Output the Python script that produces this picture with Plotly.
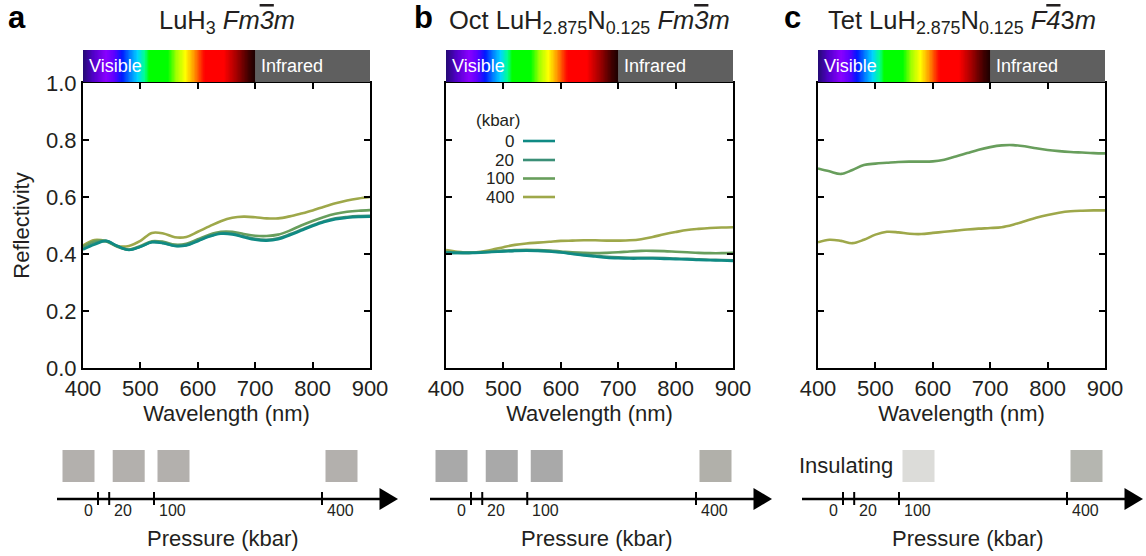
import plotly.graph_objects as go

W, H = 1146, 556
FONT = "Arial, 'Liberation Sans', sans-serif"
TXT = "#231f20"

# ---------------- data ----------------
WAVELENGTH = list(range(400, 901, 20))  # nm

# panel a: LuH3
A_0 = [0.416, 0.433, 0.446, 0.428, 0.414, 0.425, 0.441, 0.438, 0.428, 0.430, 0.445, 0.461, 0.471,
       0.469, 0.459, 0.450, 0.447, 0.452, 0.466, 0.482, 0.498, 0.512, 0.522, 0.527, 0.530, 0.531]
A_20 = [0.418, 0.437, 0.446, 0.427, 0.415, 0.426, 0.442, 0.439, 0.429, 0.432, 0.447, 0.463, 0.473,
        0.471, 0.462, 0.453, 0.450, 0.455, 0.469, 0.485, 0.501, 0.515, 0.525, 0.530, 0.533, 0.534]
A_100 = [0.425, 0.445, 0.445, 0.425, 0.416, 0.428, 0.445, 0.443, 0.433, 0.436, 0.452, 0.468, 0.478,
         0.478, 0.470, 0.464, 0.463, 0.468, 0.482, 0.500, 0.516, 0.530, 0.541, 0.548, 0.552, 0.554]
A_400 = [0.430, 0.449, 0.445, 0.428, 0.428, 0.446, 0.474, 0.472, 0.459, 0.460, 0.478, 0.497, 0.515,
         0.527, 0.531, 0.529, 0.525, 0.525, 0.532, 0.542, 0.553, 0.566, 0.578, 0.588, 0.595, 0.600]

# panel b: octahedral LuH2.875N0.125
B_0 = [0.405, 0.404, 0.404, 0.405, 0.407, 0.409, 0.411, 0.412, 0.411, 0.409, 0.405, 0.400, 0.395,
       0.391, 0.387, 0.385, 0.384, 0.384, 0.384, 0.383, 0.382, 0.381, 0.379, 0.378, 0.377, 0.376]
B_20 = [0.404, 0.404, 0.404, 0.406, 0.408, 0.410, 0.412, 0.413, 0.412, 0.410, 0.407, 0.402, 0.398,
        0.394, 0.390, 0.388, 0.387, 0.387, 0.387, 0.386, 0.384, 0.383, 0.381, 0.380, 0.379, 0.378]
B_100 = [0.408, 0.405, 0.404, 0.406, 0.409, 0.412, 0.414, 0.415, 0.414, 0.412, 0.409, 0.406, 0.404,
         0.403, 0.404, 0.406, 0.409, 0.411, 0.411, 0.410, 0.408, 0.406, 0.404, 0.403, 0.403, 0.404]
B_400 = [0.414, 0.408, 0.405, 0.408, 0.415, 0.424, 0.432, 0.437, 0.440, 0.443, 0.446, 0.447, 0.448,
         0.448, 0.447, 0.447, 0.448, 0.452, 0.460, 0.469, 0.477, 0.484, 0.488, 0.491, 0.493, 0.494]

# panel c: tetrahedral LuH2.875N0.125
C_100 = [0.700, 0.690, 0.681, 0.695, 0.712, 0.717, 0.720, 0.723, 0.724, 0.724, 0.725, 0.731, 0.742,
         0.754, 0.766, 0.775, 0.781, 0.782, 0.778, 0.771, 0.765, 0.761, 0.758, 0.756, 0.754, 0.753]
C_400 = [0.441, 0.450, 0.446, 0.438, 0.450, 0.468, 0.478, 0.476, 0.471, 0.470, 0.474, 0.478, 0.482,
         0.486, 0.489, 0.491, 0.494, 0.503, 0.515, 0.527, 0.537, 0.545, 0.550, 0.552, 0.553, 0.553]

SERIES_NAMES = ["0", "20", "100", "400"]
PRESSURES = [0, 20, 100, 400]
PRESSURE_TICK_LABELS = ["0", "20", "100", "400"]

PANEL_LETTERS = ["a", "b", "c"]
PANEL_TITLES = [
    "LuH<sub>3</sub> <i>Fm</i><span style='text-decoration:overline'><i>3</i></span><i>m</i>",
    "Oct LuH<sub>2.875</sub>N<sub>0.125</sub> <i>Fm</i><span style='text-decoration:overline'><i>3</i></span><i>m</i>",
    "Tet LuH<sub>2.875</sub>N<sub>0.125</sub> <i>F</i><span style='text-decoration:overline'><i>4</i></span>3<i>m</i>",
]

# spectrum bar colour stops (nm, colour)
SPECTRUM_NM = [400, 418, 440, 455, 468, 482, 495, 507, 515, 548, 562, 578, 592, 606, 612, 645, 668, 688, 700]
SPECTRUM_COLORS = ["#240a73", "#5000c8", "#8a00ff", "#5a00ff", "#0018ff", "#0080ff", "#00d4ff",
                   "#00ff90", "#00ff00", "#00ff00", "#a0ff00", "#ffff00", "#ffa000", "#ff2800",
                   "#ff0000", "#ff0000", "#a00000", "#400000", "#1a0000"]

# ---------------- styling ----------------
LINE_COLORS = {"0": "#0f8a84", "20": "#3b8f77", "100": "#689e5c", "400": "#9ea84a"}

PANEL_SERIES = [
    {"0": A_0, "20": A_20, "100": A_100, "400": A_400},
    {"0": B_0, "20": B_20, "100": B_100, "400": B_400},
    {"100": C_100, "400": C_400},
]

# pixel geometry
PLOT_X = [(83, 370), (446, 733), (818, 1105)]
PLOT_Y = (83, 368)
BAR_Y = (50, 82)
PRESS_AXIS = [  # start px, arrow tip px, px of 0 kbar, px per kbar
    (57, 398, 98, 0.56),
    (430, 772, 471, 0.5625),
    (802, 1143, 843, 0.56),
]
PRESS_Y = (445, 520)
SQUARE_COLORS = [
    {0: "#b3b0ad", 20: "#b3b0ad", 100: "#b3b0ad", 400: "#b3b0ad"},
    {0: "#a9a9a9", 20: "#a9a9a9", 100: "#a9a9a9", 400: "#b1b0aa"},
    {100: "#dcdcd9", 400: "#b5b6b0"},
]


def px_x(x):
    return x / W


def px_y(y):
    return 1 - y / H


def py_press(y):
    # pixel y -> pressure-diagram y units (0 at bottom of its domain, 1 at top)
    return (PRESS_Y[1] - y) / (PRESS_Y[1] - PRESS_Y[0])


fig = go.Figure()
annotations = []
shapes = []
layout = {}

# colourscale for the visible part
lo, hi = SPECTRUM_NM[0], SPECTRUM_NM[-1]
colorscale = [[(nm - lo) / (hi - lo), c] for nm, c in zip(SPECTRUM_NM, SPECTRUM_COLORS)]
bar_nm = list(range(lo, hi + 1))

axis_common = dict(
    showline=True, linewidth=2, linecolor="black", mirror="ticks",
    ticks="inside", ticklen=6, tickwidth=1.5, tickcolor="black",
    showgrid=False, zeroline=False, automargin=False,
    tickfont=dict(size=22, color=TXT, family=FONT),
)

for i in range(3):
    xa, ya = f"x{i + 1}", f"y{i + 1}"
    xb, yb = f"x{i + 4}", f"y{i + 4}"
    xp, yp = f"x{i + 7}", f"y{i + 7}"

    # ---- reflectivity curves (0 kbar drawn last / on top)
    for name in reversed(SERIES_NAMES):
        if name in PANEL_SERIES[i]:
            fig.add_trace(go.Scatter(
                x=WAVELENGTH, y=PANEL_SERIES[i][name], mode="lines",
                line=dict(color=LINE_COLORS[name], width=2.6, shape="spline", smoothing=1.0),
                xaxis=xa, yaxis=ya, name=name + " kbar", hoverinfo="x+y+name",
            ))

    layout[f"xaxis{i + 1}"] = dict(
        axis_common, domain=[px_x(PLOT_X[i][0]), px_x(PLOT_X[i][1])], range=[400, 900],
        tickvals=[400, 500, 600, 700, 800, 900], anchor=ya,
        title=dict(text="Wavelength (nm)", font=dict(size=22, color=TXT), standoff=4),
    )
    ydict = dict(
        axis_common, domain=[px_y(PLOT_Y[1]), px_y(PLOT_Y[0])], range=[0, 1],
        tickvals=[0, 0.2, 0.4, 0.6, 0.8, 1.0], tickformat=".1f", anchor=xa,
        showticklabels=(i == 0),
    )
    if i == 0:
        ydict["title"] = dict(text="Reflectivity", font=dict(size=22, color=TXT), standoff=10)
    layout[f"yaxis{i + 1}"] = ydict

    # ---- spectrum bar
    fig.add_trace(go.Heatmap(
        x=bar_nm, y=[0.5], z=[bar_nm], zmin=lo, zmax=hi, colorscale=colorscale,
        showscale=False, hoverinfo="skip", xaxis=xb, yaxis=yb,
    ))
    layout[f"xaxis{i + 4}"] = dict(domain=[px_x(PLOT_X[i][0]), px_x(PLOT_X[i][1])], range=[400, 900],
                                    visible=False, anchor=yb)
    layout[f"yaxis{i + 4}"] = dict(domain=[px_y(BAR_Y[1]), px_y(BAR_Y[0])], range=[0, 1],
                                    visible=False, anchor=xb)
    shapes.append(dict(type="rect", xref=xb, yref=yb, x0=700, x1=900, y0=0, y1=1,
                       fillcolor="#5f5f5f", line=dict(width=0), layer="above"))
    annotations.append(dict(text="Visible", xref=xb, yref=yb, x=400, y=0.5, xanchor="left",
                            yanchor="middle", xshift=4, showarrow=False,
                            font=dict(size=18, color="white")))
    annotations.append(dict(text="Infrared", xref=xb, yref=yb, x=700, y=0.5, xanchor="left",
                            yanchor="middle", xshift=4, showarrow=False,
                            font=dict(size=18, color="white")))

    # ---- titles
    cx = (PLOT_X[i][0] + PLOT_X[i][1]) / 2
    annotations.append(dict(text=PANEL_TITLES[i], xref="paper", yref="paper", x=px_x(cx), y=px_y(22),
                            xanchor="center", yanchor="middle", showarrow=False,
                            font=dict(size=25.5, color=TXT)))
    letter_x = [6, 412, 782][i]
    annotations.append(dict(text=f"<b>{PANEL_LETTERS[i]}</b>", xref="paper", yref="paper",
                            x=px_x(letter_x), y=px_y(17), xanchor="left", yanchor="middle",
                            showarrow=False, font=dict(size=31, color="black")))

    # ---- pressure diagram
    start, tip, p0, k = PRESS_AXIS[i]
    rng = [(start - p0) / k, (tip - p0) / k]
    layout[f"xaxis{i + 7}"] = dict(domain=[px_x(start), px_x(tip)], range=rng, visible=False, anchor=yp)
    layout[f"yaxis{i + 7}"] = dict(domain=[px_y(PRESS_Y[1]), px_y(PRESS_Y[0])], range=[0, 1],
                                    visible=False, anchor=xp)
    y_axis = py_press(499)
    arrow_base = rng[1] - 18.5 / k
    fig.add_trace(go.Scatter(x=[rng[0], arrow_base + 2 / k], y=[y_axis, y_axis], mode="lines",
                             line=dict(color="black", width=2.3), xaxis=xp, yaxis=yp, hoverinfo="skip"))
    half = 11 / (PRESS_Y[1] - PRESS_Y[0])
    fig.add_trace(go.Scatter(x=[arrow_base, rng[1], arrow_base, arrow_base],
                             y=[y_axis + half, y_axis, y_axis - half, y_axis + half],
                             mode="lines", fill="toself", fillcolor="black",
                             line=dict(color="black", width=0), xaxis=xp, yaxis=yp, hoverinfo="skip"))
    for p, lab in zip(PRESSURES, PRESSURE_TICK_LABELS):
        shapes.append(dict(type="line", xref=xp, yref=yp, x0=p, x1=p,
                           y0=py_press(492), y1=py_press(505), line=dict(color="black", width=2)))
        annotations.append(dict(text=lab, xref=xp, yref=yp, x=p, y=py_press(510),
                                xanchor="right" if p == 0 else "left", yanchor="middle",
                                xshift=-3 if p == 0 else 3, showarrow=False,
                                font=dict(size=16, color=TXT)))
    sq_x, sq_c = [], []
    for p in PRESSURES:
        if p in SQUARE_COLORS[i]:
            sq_x.append(p + (-19.5 if p == 0 else 19.5) / k)
            sq_c.append(SQUARE_COLORS[i][p])
    fig.add_trace(go.Scatter(x=sq_x, y=[py_press(466)] * len(sq_x), mode="markers",
                             marker=dict(symbol="square", size=32, color=sq_c, line=dict(width=0)),
                             xaxis=xp, yaxis=yp, hoverinfo="skip", cliponaxis=False))
    if i == 2:
        annotations.append(dict(text="Insulating", xref=xp, yref=yp, x=100, y=py_press(465),
                                xanchor="right", yanchor="middle", xshift=-4, showarrow=False,
                                font=dict(size=22, color=TXT)))
    annotations.append(dict(text="Pressure (kbar)", xref="paper", yref="paper",
                            x=px_x([223, 597, 968][i]), y=px_y(538), xanchor="center",
                            yanchor="middle", showarrow=False, font=dict(size=22, color=TXT)))

# ---- manual legend in panel b
annotations.append(dict(text="(kbar)", xref="paper", yref="paper", x=px_x(498), y=px_y(120),
                        xanchor="center", yanchor="middle", showarrow=False,
                        font=dict(size=17, color=TXT)))
for j, name in enumerate(SERIES_NAMES):
    yy = [141, 160, 178.5, 197][j]
    annotations.append(dict(text=name, xref="paper", yref="paper", x=px_x(516), y=px_y(yy),
                            xanchor="right", yanchor="middle", showarrow=False,
                            font=dict(size=17, color=TXT)))
    shapes.append(dict(type="line", xref="paper", yref="paper", x0=px_x(523), x1=px_x(555),
                       y0=px_y(yy), y1=px_y(yy), line=dict(color=LINE_COLORS[name], width=2.6)))

fig.update_layout(
    width=W, height=H, margin=dict(l=0, r=0, t=0, b=0, autoexpand=False),
    paper_bgcolor="white", plot_bgcolor="white",
    font=dict(family=FONT, size=22, color=TXT),
    showlegend=False, annotations=annotations, shapes=shapes, **layout,
)

fig.write_html("out.html")
